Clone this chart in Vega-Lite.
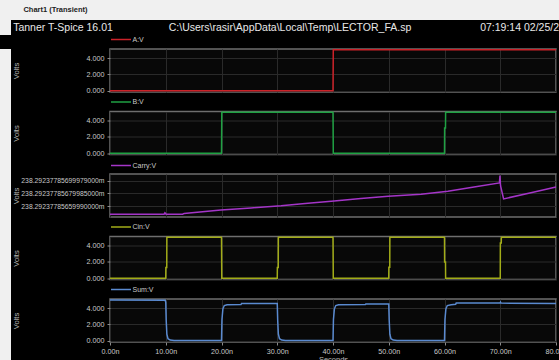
{
  "$schema": "https://vega.github.io/schema/vega-lite/v6.json",
  "background": "#000000",
  "padding": 0,
  "spacing": 0,
  "config": {
    "font": "Liberation Sans",
    "view": {"stroke": "#6e6e6e", "strokeWidth": 1.5, "fill": "#080808"},
    "axis": {
      "labelColor": "#c8c8c8", "labelFontSize": 7.2, "labelPadding": 3,
      "titleColor": "#b8b8b8", "titleFontSize": 7.5, "titleFontWeight": "normal",
      "gridColor": "#2a2a2a", "gridWidth": 1, "domain": false,
      "tickColor": "#8a8a8a", "tickSize": 3
    },
    "legend": {
      "orient": "top", "direction": "horizontal", "padding": 0, "offset": 3,
      "symbolType": "M-4,0H4", "symbolSize": 25, "symbolStrokeWidth": 1.5,
      "symbolOffset": 7.5, "labelOffset": 8, "labelFontSize": 7, "labelColor": "#c8c8c8"
    },
    "line": {"strokeWidth": 1.5, "clip": true}
  },
  "datasets": {
    "A": [
      {"signal": "A:V", "t": 0, "v": 0},
      {"signal": "A:V", "t": 40, "v": 0},
      {"signal": "A:V", "t": 40.05, "v": 5},
      {"signal": "A:V", "t": 80, "v": 5}
    ],
    "B": [
      {"signal": "B:V", "t": 0, "v": 0},
      {"signal": "B:V", "t": 20, "v": 0},
      {"signal": "B:V", "t": 20.05, "v": 5},
      {"signal": "B:V", "t": 40, "v": 5},
      {"signal": "B:V", "t": 40.05, "v": 0},
      {"signal": "B:V", "t": 60, "v": 0},
      {"signal": "B:V", "t": 60.02, "v": 3.1},
      {"signal": "B:V", "t": 60.18, "v": 3.1},
      {"signal": "B:V", "t": 60.2, "v": 5},
      {"signal": "B:V", "t": 80, "v": 5}
    ],
    "Carry": [
      {"signal": "Carry:V", "t": 0, "v": 0.2382923778564740},
      {"signal": "Carry:V", "t": 9.7, "v": 0.2382923778564740},
      {"signal": "Carry:V", "t": 9.85, "v": 0.2382923778564950},
      {"signal": "Carry:V", "t": 10.05, "v": 0.2382923778564740},
      {"signal": "Carry:V", "t": 13.0, "v": 0.2382923778564740},
      {"signal": "Carry:V", "t": 13.3, "v": 0.2382923778564850},
      {"signal": "Carry:V", "t": 19.9, "v": 0.2382923778565380},
      {"signal": "Carry:V", "t": 25.3, "v": 0.2382923778565720},
      {"signal": "Carry:V", "t": 30.7, "v": 0.2382923778566050},
      {"signal": "Carry:V", "t": 35.0, "v": 0.2382923778566400},
      {"signal": "Carry:V", "t": 40.2, "v": 0.2382923778566800},
      {"signal": "Carry:V", "t": 45.0, "v": 0.2382923778567200},
      {"signal": "Carry:V", "t": 49.9, "v": 0.2382923778567550},
      {"signal": "Carry:V", "t": 55.8, "v": 0.2382923778567850},
      {"signal": "Carry:V", "t": 60.6, "v": 0.2382923778568350},
      {"signal": "Carry:V", "t": 65.3, "v": 0.2382923778569000},
      {"signal": "Carry:V", "t": 69.85, "v": 0.2382923778569650},
      {"signal": "Carry:V", "t": 69.95, "v": 0.2382923778570800},
      {"signal": "Carry:V", "t": 70.05, "v": 0.2382923778569200},
      {"signal": "Carry:V", "t": 70.6, "v": 0.2382923778567140},
      {"signal": "Carry:V", "t": 75.5, "v": 0.2382923778568110},
      {"signal": "Carry:V", "t": 80, "v": 0.2382923778569000}
    ],
    "Cin": [
      {"signal": "Cin:V", "t": 0, "v": 0},
      {"signal": "Cin:V", "t": 10, "v": 0},
      {"signal": "Cin:V", "t": 10.02, "v": 1.3},
      {"signal": "Cin:V", "t": 10.18, "v": 1.3},
      {"signal": "Cin:V", "t": 10.2, "v": 5},
      {"signal": "Cin:V", "t": 20, "v": 5},
      {"signal": "Cin:V", "t": 20.05, "v": 0},
      {"signal": "Cin:V", "t": 30, "v": 0},
      {"signal": "Cin:V", "t": 30.02, "v": 1.3},
      {"signal": "Cin:V", "t": 30.18, "v": 1.3},
      {"signal": "Cin:V", "t": 30.2, "v": 5},
      {"signal": "Cin:V", "t": 40, "v": 5},
      {"signal": "Cin:V", "t": 40.05, "v": 0},
      {"signal": "Cin:V", "t": 50, "v": 0},
      {"signal": "Cin:V", "t": 50.02, "v": 1.35},
      {"signal": "Cin:V", "t": 50.18, "v": 1.35},
      {"signal": "Cin:V", "t": 50.2, "v": 5},
      {"signal": "Cin:V", "t": 60, "v": 5},
      {"signal": "Cin:V", "t": 60.02, "v": 2.0},
      {"signal": "Cin:V", "t": 60.18, "v": 2.0},
      {"signal": "Cin:V", "t": 60.2, "v": 0},
      {"signal": "Cin:V", "t": 70, "v": 0},
      {"signal": "Cin:V", "t": 70.02, "v": 4.3},
      {"signal": "Cin:V", "t": 70.18, "v": 4.3},
      {"signal": "Cin:V", "t": 70.2, "v": 5},
      {"signal": "Cin:V", "t": 80, "v": 5}
    ],
    "Sum": [
      {"signal": "Sum:V", "t": 0, "v": 4.98},
      {"signal": "Sum:V", "t": 9.9, "v": 4.95},
      {"signal": "Sum:V", "t": 10.0, "v": 4.7},
      {"signal": "Sum:V", "t": 10.08, "v": 2.5},
      {"signal": "Sum:V", "t": 10.2, "v": 0.8},
      {"signal": "Sum:V", "t": 10.4, "v": 0.25},
      {"signal": "Sum:V", "t": 10.8, "v": 0.08},
      {"signal": "Sum:V", "t": 11.5, "v": 0.04},
      {"signal": "Sum:V", "t": 20.0, "v": 0.04},
      {"signal": "Sum:V", "t": 20.08, "v": 2.6},
      {"signal": "Sum:V", "t": 20.25, "v": 3.9},
      {"signal": "Sum:V", "t": 20.5, "v": 4.3},
      {"signal": "Sum:V", "t": 21.0, "v": 4.4},
      {"signal": "Sum:V", "t": 23.5, "v": 4.42},
      {"signal": "Sum:V", "t": 23.6, "v": 4.55},
      {"signal": "Sum:V", "t": 30.0, "v": 4.55},
      {"signal": "Sum:V", "t": 30.08, "v": 2.5},
      {"signal": "Sum:V", "t": 30.2, "v": 0.8},
      {"signal": "Sum:V", "t": 30.4, "v": 0.25},
      {"signal": "Sum:V", "t": 30.8, "v": 0.08},
      {"signal": "Sum:V", "t": 31.5, "v": 0.04},
      {"signal": "Sum:V", "t": 40.0, "v": 0.04},
      {"signal": "Sum:V", "t": 40.08, "v": 2.6},
      {"signal": "Sum:V", "t": 40.25, "v": 3.9},
      {"signal": "Sum:V", "t": 40.5, "v": 4.3},
      {"signal": "Sum:V", "t": 41.0, "v": 4.4},
      {"signal": "Sum:V", "t": 45.8, "v": 4.42},
      {"signal": "Sum:V", "t": 45.9, "v": 4.5},
      {"signal": "Sum:V", "t": 50.0, "v": 4.5},
      {"signal": "Sum:V", "t": 50.08, "v": 2.5},
      {"signal": "Sum:V", "t": 50.2, "v": 0.8},
      {"signal": "Sum:V", "t": 50.4, "v": 0.25},
      {"signal": "Sum:V", "t": 50.8, "v": 0.08},
      {"signal": "Sum:V", "t": 51.5, "v": 0.04},
      {"signal": "Sum:V", "t": 60.0, "v": 0.04},
      {"signal": "Sum:V", "t": 60.08, "v": 2.6},
      {"signal": "Sum:V", "t": 60.25, "v": 3.9},
      {"signal": "Sum:V", "t": 60.5, "v": 4.3},
      {"signal": "Sum:V", "t": 61.2, "v": 4.4},
      {"signal": "Sum:V", "t": 62.0, "v": 4.45},
      {"signal": "Sum:V", "t": 62.1, "v": 4.6},
      {"signal": "Sum:V", "t": 70.0, "v": 4.6},
      {"signal": "Sum:V", "t": 70.05, "v": 4.7},
      {"signal": "Sum:V", "t": 70.15, "v": 4.6},
      {"signal": "Sum:V", "t": 80, "v": 4.55}
    ],
    "tab": [{"label": "Chart1 (Transient)"}],
    "head1": [{"label": "Tanner T-Spice 16.01"}],
    "head2": [{"label": "C:\\Users\\rasir\\AppData\\Local\\Temp\\LECTOR_FA.sp"}],
    "head3": [{"label": "07:19:14 02/25/24"}]
  },
  "vconcat": [
    {
      "spacing": 0,
      "hconcat": [
        {
          "width": 111, "height": 20,
          "view": {"stroke": null, "fill": "#f0f0f0"},
          "data": {"name": "tab"},
          "mark": {"type": "text", "fontSize": 7.5, "fontWeight": "bold", "color": "#222222"},
          "encoding": {"text": {"field": "label"}}
        },
        {
          "width": 448, "height": 20,
          "view": {"stroke": null, "fill": "#f0f0f0"},
          "data": {"values": []},
          "mark": "point"
        }
      ]
    },
    {
      "spacing": 0,
      "hconcat": [
        {
          "width": 11, "height": 15,
          "view": {"stroke": null, "fill": "#f0f0f0"},
          "data": {"values": []},
          "mark": "point"
        },
        {
          "width": 104, "height": 15,
          "view": {"stroke": null, "fill": null},
          "data": {"name": "head1"},
          "mark": {"type": "text", "fontSize": 10.5, "color": "#e8e8e8"},
          "encoding": {"text": {"field": "label"}}
        },
        {
          "width": 350, "height": 15,
          "view": {"stroke": null, "fill": null},
          "data": {"name": "head2"},
          "mark": {"type": "text", "fontSize": 10.5, "color": "#e8e8e8"},
          "encoding": {"text": {"field": "label"}}
        },
        {
          "width": 115, "height": 15,
          "view": {"stroke": null, "fill": null},
          "data": {"name": "head3"},
          "mark": {"type": "text", "fontSize": 10.5, "color": "#e8e8e8"},
          "encoding": {"text": {"field": "label"}}
        }
      ]
    },
    {
      "spacing": 0,
      "hconcat": [
        {
          "width": 11, "height": 325,
          "view": {"stroke": null, "fill": "#f0f0f0"},
          "data": {"values": []},
          "mark": "point"
        },
        {
          "spacing": 19.5,
          "bounds": "flush",
          "resolve": {"scale": {"color": "independent", "y": "independent"}, "legend": {"color": "independent"}},
          "vconcat": [
            {
              "width": 446, "height": 43,
              "data": {"name": "A"},
              "mark": "line",
              "encoding": {
                "x": {"field": "t", "type": "quantitative", "scale": {"domain": [0, 80], "nice": false},
                  "axis": {"values": [0, 10, 20, 30, 40, 50, 60, 70, 80], "labels": false, "ticks": false, "title": null, "grid": true}},
                "y": {"field": "v", "type": "quantitative", "scale": {"domain": [-0.15, 5.1], "nice": false, "zero": false},
                  "axis": {"values": [0, 2, 4], "format": ".3f", "title": "Volts", "titleX": -94, "titleBaseline": "middle", "grid": true}},
                "color": {"field": "signal", "type": "nominal", "scale": {"range": ["#cc2229"]}, "legend": {"title": null}}
              }
            },
            {
              "width": 446, "height": 43,
              "data": {"name": "B"},
              "mark": "line",
              "encoding": {
                "x": {"field": "t", "type": "quantitative", "scale": {"domain": [0, 80], "nice": false},
                  "axis": {"values": [0, 10, 20, 30, 40, 50, 60, 70, 80], "labels": false, "ticks": false, "title": null, "grid": true}},
                "y": {"field": "v", "type": "quantitative", "scale": {"domain": [-0.15, 5.1], "nice": false, "zero": false},
                  "axis": {"values": [0, 2, 4], "format": ".3f", "title": "Volts", "titleX": -94, "titleBaseline": "middle", "grid": true}},
                "color": {"field": "signal", "type": "nominal", "scale": {"range": ["#1fa143"]}, "legend": {"title": null}}
              }
            },
            {
              "width": 446, "height": 43,
              "data": {"name": "Carry"},
              "mark": "line",
              "encoding": {
                "x": {"field": "t", "type": "quantitative", "scale": {"domain": [0, 80], "nice": false},
                  "axis": {"values": [0, 10, 20, 30, 40, 50, 60, 70, 80], "labels": false, "ticks": false, "title": null, "grid": true}},
                "y": {"field": "v", "type": "quantitative", "scale": {"domain": [0.2382923778564290, 0.2382923778571050], "nice": false, "zero": false},
                  "axis": {"values": [0.2382923778565999, 0.23829237785679985, 0.23829237785699979],
                    "labelExpr": "datum.value < 0.2382923778567 ? '238.29237785659990000m' : (datum.value < 0.2382923778569 ? '238.29237785679985000m' : '238.29237785699979000m')",
                    "labelFontSize": 6.8,
                    "title": "Volts", "titleX": -94, "titleBaseline": "middle", "grid": true}},
                "color": {"field": "signal", "type": "nominal", "scale": {"range": ["#a435c8"]}, "legend": {"title": null}}
              }
            },
            {
              "width": 446, "height": 43,
              "data": {"name": "Cin"},
              "mark": "line",
              "encoding": {
                "x": {"field": "t", "type": "quantitative", "scale": {"domain": [0, 80], "nice": false},
                  "axis": {"values": [0, 10, 20, 30, 40, 50, 60, 70, 80], "labels": false, "ticks": false, "title": null, "grid": true}},
                "y": {"field": "v", "type": "quantitative", "scale": {"domain": [-0.15, 5.1], "nice": false, "zero": false},
                  "axis": {"values": [0, 2, 4], "format": ".3f", "title": "Volts", "titleX": -94, "titleBaseline": "middle", "grid": true}},
                "color": {"field": "signal", "type": "nominal", "scale": {"range": ["#a2ac18"]}, "legend": {"title": null}}
              }
            },
            {
              "width": 446, "height": 43,
              "data": {"name": "Sum"},
              "mark": "line",
              "encoding": {
                "x": {"field": "t", "type": "quantitative", "scale": {"domain": [0, 80], "nice": false},
                  "axis": {"values": [0, 10, 20, 30, 40, 50, 60, 70, 80], "labelExpr": "format(datum.value, '.2f') + 'n'",
                    "labelFlush": false, "labelOverlap": false, "labelPadding": 2, "title": "Seconds", "titlePadding": 1, "grid": true}},
                "y": {"field": "v", "type": "quantitative", "scale": {"domain": [-0.15, 5.1], "nice": false, "zero": false},
                  "axis": {"values": [0, 2, 4], "format": ".3f", "title": "Volts", "titleX": -94, "titleBaseline": "middle", "grid": true}},
                "color": {"field": "signal", "type": "nominal", "scale": {"range": ["#5a8ad0"]}, "legend": {"title": null}}
              }
            }
          ]
        }
      ]
    }
  ]
}
